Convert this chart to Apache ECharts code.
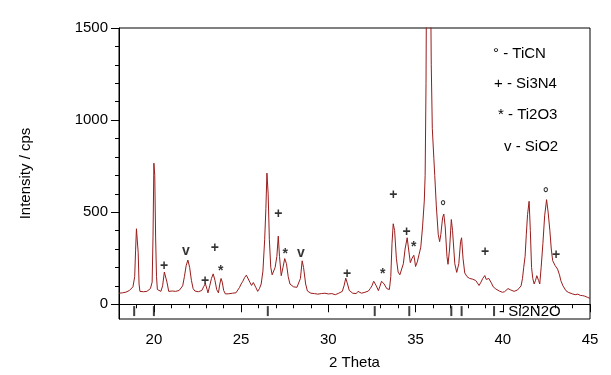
<!DOCTYPE html>
<html>
<head>
<meta charset="utf-8">
<script src="https://cdn.jsdelivr.net/npm/echarts@6/dist/echarts.min.js"></script>
<style>
html, body { margin: 0; padding: 0; background: #fff; }
#main { width: 611px; height: 375px; }
</style>
</head>
<body>
<div id="main"></div>
<script>
// 2 Theta / intensity
var twoTheta = [
	18.00, 18.10, 18.20, 18.30, 18.40, 18.50, 18.60, 18.70, 18.80, 18.90, 18.95, 19.00, 19.05, 19.10, 19.15, 19.20,
	19.30, 19.40, 19.50, 19.60, 19.70, 19.80, 19.90, 19.95, 20.00, 20.05, 20.10, 20.15, 20.20, 20.30, 20.40, 20.50,
	20.60, 20.65, 20.75, 20.85, 20.95, 21.05, 21.15, 21.25, 21.35, 21.45, 21.55, 21.65, 21.75, 21.85, 21.95, 22.05,
	22.15, 22.25, 22.35, 22.45, 22.55, 22.65, 22.75, 22.85, 22.95, 23.05, 23.10, 23.20, 23.30, 23.40, 23.50, 23.60,
	23.70, 23.78, 23.85, 23.92, 24.00, 24.10, 24.20, 24.30, 24.40, 24.50, 24.60, 24.70, 24.80, 24.90, 25.00, 25.10,
	25.20, 25.30, 25.40, 25.50, 25.60, 25.70, 25.77, 25.85, 25.95, 26.05, 26.15, 26.25, 26.35, 26.42, 26.48, 26.55,
	26.62, 26.70, 26.78, 26.85, 26.95, 27.05, 27.13, 27.20, 27.30, 27.40, 27.50, 27.60, 27.70, 27.80, 27.90, 28.00,
	28.10, 28.20, 28.30, 28.40, 28.50, 28.58, 28.70, 28.80, 28.90, 29.00, 29.10, 29.20, 29.30, 29.40, 29.50, 29.60,
	29.70, 29.80, 29.90, 30.00, 30.10, 30.20, 30.30, 30.40, 30.50, 30.60, 30.70, 30.80, 30.90, 31.00, 31.10, 31.20,
	31.30, 31.40, 31.50, 31.60, 31.70, 31.80, 31.90, 32.00, 32.10, 32.20, 32.30, 32.40, 32.50, 32.60, 32.66, 32.75,
	32.87, 32.95, 33.05, 33.10, 33.20, 33.35, 33.50, 33.58, 33.65, 33.72, 33.80, 33.90, 34.00, 34.10, 34.20, 34.30,
	34.40, 34.52, 34.60, 34.70, 34.80, 34.90, 34.95, 35.00, 35.10, 35.20, 35.30, 35.40, 35.50, 35.55, 35.60, 35.65,
	35.75, 35.85, 35.90, 35.96, 36.05, 36.10, 36.19, 36.30, 36.38, 36.45, 36.55, 36.62, 36.70, 36.80, 36.86, 36.95,
	37.05, 37.12, 37.25, 37.36, 37.48, 37.58, 37.64, 37.72, 37.82, 37.95, 38.10, 38.25, 38.35, 38.45, 38.55, 38.64,
	38.75, 38.85, 38.97, 39.05, 39.12, 39.20, 39.27, 39.35, 39.45, 39.60, 39.70, 39.80, 39.90, 39.98, 40.10, 40.20,
	40.30, 40.36, 40.45, 40.55, 40.65, 40.75, 40.85, 40.94, 41.05, 41.13, 41.20, 41.28, 41.35, 41.42, 41.51, 41.58,
	41.65, 41.72, 41.80, 41.88, 41.95, 41.99, 42.05, 42.12, 42.20, 42.30, 42.40, 42.51, 42.60, 42.70, 42.78, 42.86,
	43.00, 43.07, 43.14, 43.25, 43.33, 43.45, 43.62, 43.75, 43.85, 44.00, 44.15, 44.30, 44.45, 44.58, 44.70, 44.85,
	45.00
];
var intensity = [
	60, 55, 62, 58, 66, 70, 75, 82, 95, 150, 290, 410, 400, 280, 110, 70,
	72, 68, 74, 70, 78, 85, 120, 370, 766, 700, 360, 150, 80, 72, 70, 100,
	175, 180, 120, 70, 65, 72, 62, 70, 66, 75, 80, 100, 150, 210, 240, 200,
	130, 85, 72, 75, 68, 72, 75, 95, 112, 80, 62, 100, 140, 165, 130, 80,
	62, 110, 140, 120, 75, 56, 60, 57, 55, 60, 58, 62, 72, 90, 110, 125,
	145, 158, 150, 120, 102, 118, 120, 90, 70, 85, 110, 180, 350, 520, 712, 600,
	350, 200, 160, 170, 200, 260, 370, 260, 155, 200, 248, 220, 150, 110, 100, 95,
	90, 92, 100, 140, 236, 200, 110, 72, 65, 60, 58, 58, 62, 55, 52, 58,
	54, 60, 52, 56, 54, 58, 55, 52, 58, 60, 62, 70, 100, 142, 110, 75,
	68, 60, 64, 58, 70, 62, 60, 58, 65, 60, 72, 85, 100, 125, 131, 100,
	74, 95, 125, 131, 110, 85, 80, 150, 330, 437, 400, 250, 175, 160, 165, 220,
	300, 361, 300, 226, 250, 266, 240, 205, 230, 270, 310, 420, 560, 700, 1200, 2200,
	2600, 1900, 1300, 955, 790, 700, 534, 380, 340, 380, 470, 490, 420, 260, 217, 300,
	460, 400, 220, 173, 220, 340, 361, 250, 170, 150, 140, 137, 130, 129, 115, 102,
	120, 140, 156, 135, 129, 140, 146, 115, 95, 83, 80, 72, 70, 65, 68, 75,
	85, 92, 78, 72, 70, 80, 78, 83, 100, 140, 200, 260, 380, 487, 559, 400,
	200, 140, 110, 130, 155, 163, 130, 110, 200, 330, 480, 568, 500, 399, 300, 237,
	210, 200, 191, 160, 128, 100, 74, 65, 62, 56, 52, 55, 48, 47, 44, 38,
	32
];

// phase marks above the peaks
var markX = [20.59, 21.84, 22.93, 23.50, 23.83, 27.14, 27.53, 28.43, 31.07, 33.12, 33.72, 34.48, 34.90, 36.57, 38.98, 42.47, 43.05];
var markY = [209, 290, 128, 304, 182, 487, 272, 280, 163, 162, 592, 394, 311, 527, 284, 596, 266];
var markSym = ['+', 'v', '+', '+', '*', '+', '*', 'v', '+', '*', '+', '+', '*', '°', '+', '°', '+'];

// Si2N2O reference lines
var si2n2oX = [18.87, 20.0, 26.53, 32.66, 34.64, 37.05, 37.64, 39.5];

var xTicks = [20, 25, 30, 35, 40, 45];
var xMinor = [18, 19, 21, 22, 23, 24, 26, 27, 28, 29, 31, 32, 33, 34, 36, 37, 38, 39, 41, 42, 43, 44];
var yTicks = [0, 500, 1000, 1500];
var yMinor = [100, 200, 300, 400, 600, 700, 800, 900, 1100, 1200, 1300, 1400];

var legendTexts = ['° - TiCN', '+ - Si3N4', '* - Ti2O3', 'v - SiO2'];

var FONT = 'Liberation Sans, Arial, sans-serif';

var chart = echarts.init(document.getElementById('main'), null, { renderer: 'canvas' });

var lineData = [];
for (var i = 0; i < twoTheta.length; i++) {
	lineData.push([twoTheta[i], intensity[i]]);
}
var markData = [];
for (var j = 0; j < markX.length; j++) {
	markData.push({ value: [markX[j], markY[j]], name: markSym[j] });
}
var barData = [];
for (var k = 0; k < si2n2oX.length; k++) {
	barData.push([si2n2oX[k], -37]);
}

var legendLeft = [493, 494, 498, 504];
var legendTop = [54, 84, 115, 147];
var graphics = [];
for (var g = 0; g < legendTexts.length; g++) {
	graphics.push({
		type: 'text',
		left: legendLeft[g],
		top: legendTop[g] - 8,
		style: { text: legendTexts[g], fill: '#000', font: '15px ' + FONT }
	});
}
graphics.push({
	type: 'text',
	left: 499,
	top: 304,
	style: { text: '- Si2N2O', fill: '#000', font: '15px ' + FONT }
});

var axisCommon = {
	type: 'value',
	splitLine: { show: false },
	axisLine: { show: true, lineStyle: { color: '#000', width: 1 } }
};

var option = {
	animation: false,
	backgroundColor: '#fff',
	grid: {
		left: 119, right: 21, top: 28, bottom: 53,
		show: true, borderColor: '#000', borderWidth: 1
	},
	xAxis: [
		echarts.util.merge({
			min: 18, max: 45,
			name: '2 Theta',
			nameLocation: 'middle',
			nameGap: 36,
			nameTextStyle: { color: '#000', fontSize: 15, fontFamily: FONT },
			axisTick: { show: true, inside: false, length: 8, customValues: xTicks, lineStyle: { color: '#000' } },
			axisLabel: {
				customValues: xTicks, margin: 13, color: '#000', fontSize: 15, fontFamily: FONT,
				formatter: function (v) { return String(v); }
			}
		}, axisCommon),
		echarts.util.merge({
			min: 18, max: 45,
			position: 'bottom',
			axisLine: { show: false },
			axisTick: { show: true, length: 4, customValues: xMinor, lineStyle: { color: '#000' } },
			axisLabel: { show: false }
		}, axisCommon)
	],
	yAxis: [
		echarts.util.merge({
			min: -80, max: 1500,
			name: 'Intensity / cps',
			nameLocation: 'middle',
			nameGap: 86,
			nameTextStyle: { color: '#000', fontSize: 15, fontFamily: FONT },
			axisTick: { show: true, length: 8, customValues: yTicks, lineStyle: { color: '#000' } },
			axisLabel: {
				customValues: yTicks, margin: 11, color: '#000', fontSize: 15, fontFamily: FONT,
				formatter: function (v) { return String(v); }
			}
		}, axisCommon),
		echarts.util.merge({
			min: -80, max: 1500,
			position: 'left',
			axisLine: { show: false },
			axisTick: { show: true, length: 4, customValues: yMinor, lineStyle: { color: '#000' } },
			axisLabel: { show: false }
		}, axisCommon)
	],
	graphic: graphics,
	series: [
		{
			name: 'pattern',
			type: 'line',
			data: lineData,
			showSymbol: false,
			clip: true,
			lineStyle: { color: '#9a1c1c', width: 1 },
			itemStyle: { color: '#9a1c1c' },
			z: 3
		},
		{
			name: 'marks',
			type: 'scatter',
			data: markData,
			symbolSize: 1,
			itemStyle: { color: 'rgba(0,0,0,0)' },
			label: {
				show: true,
				position: 'inside',
				color: '#000',
				fontSize: 14,
				fontWeight: 'bold',
				fontFamily: FONT,
				formatter: function (p) { return p.name; }
			},
			z: 4
		},
		{
			name: 'Si2N2O',
			type: 'scatter',
			data: barData,
			symbol: 'rect',
			symbolSize: [2, 10],
			itemStyle: { color: '#111' },
			z: 4
		}
	]
};

chart.setOption(option);
</script>
</body>
</html>
